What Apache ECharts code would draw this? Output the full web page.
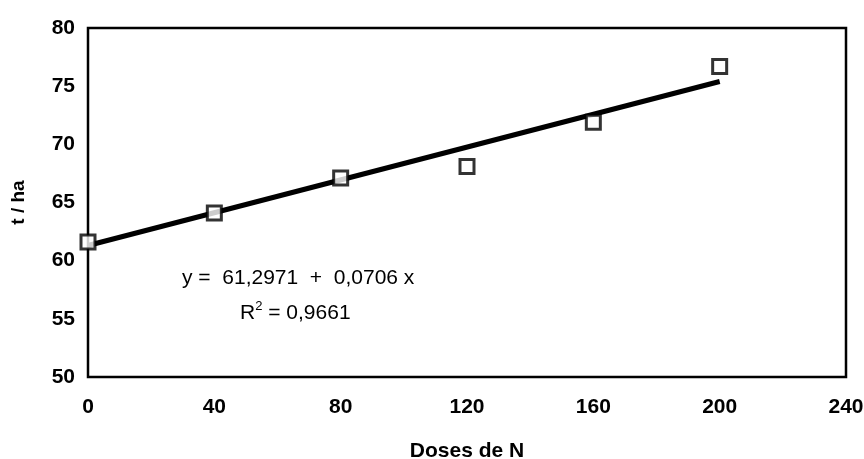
<!DOCTYPE html>
<html>
<head>
	<meta charset="utf-8">
	<title>Doses de N</title>
	<style>
		html, body { margin: 0; padding: 0; background: #fff; }
		#chart { width: 864px; height: 459px; }
	</style>
</head>
<body>
	<div id="chart"></div>
<script type="text/javascript" src="https://cdn.jsdelivr.net/npm/echarts@6/dist/echarts.min.js"></script>
<script type="text/javascript">
	// observed points
	var doses = [0, 40, 80, 120, 160, 200];
	var yields = [61.6, 64.1, 67.1, 68.1, 71.9, 76.7];
	// fitted line ends
	var trendX = [0, 200];
	var trendY = [61.3, 75.4];
	var xTicks = [0, 40, 80, 120, 160, 200, 240];
	var yTicks = [50, 55, 60, 65, 70, 75, 80];
	var equation = 'y =  61,2971  +  0,0706 x';
	var rSquared = ['R', '2', ' = 0,9661'];

	function pairs(xs, ys) {
		var out = [];
		for (var i = 0; i < xs.length; i++) out.push([xs[i], ys[i]]);
		return out;
	}

	var myChart = echarts.init(document.getElementById('chart'));
	var font = 'Liberation Sans, Arial, sans-serif';

	var option = {
		backgroundColor: '#fff',
		animation: false,
		grid: {
			left: 88,
			right: 18,
			top: 28,
			bottom: 82,
			outerBoundsMode: 'none',
			show: true,
			borderColor: '#000',
			borderWidth: 2.5
		},
		xAxis: {
			type: 'value',
			min: xTicks[0],
			max: xTicks[xTicks.length - 1],
			interval: 40,
			name: 'Doses de N',
			nameLocation: 'middle',
			nameGap: 64,
			nameTextStyle: { color: '#000', fontFamily: font, fontWeight: 'bold', fontSize: 21 },
			axisLine: { show: false },
			axisTick: { show: false },
			splitLine: { show: false },
			axisLabel: { color: '#000', fontFamily: font, fontWeight: 'bold', fontSize: 21, margin: 20 }
		},
		yAxis: {
			type: 'value',
			min: yTicks[0],
			max: yTicks[yTicks.length - 1],
			interval: 5,
			name: 't / ha',
			nameLocation: 'middle',
			nameGap: 60,
			nameRotate: 90,
			nameTextStyle: { color: '#000', fontFamily: font, fontWeight: 'bold', fontSize: 19 },
			axisLine: { show: false },
			axisTick: { show: false },
			splitLine: { show: false },
			axisLabel: { color: '#000', fontFamily: font, fontWeight: 'bold', fontSize: 21, margin: 13 }
		},
		graphic: [
			{
				type: 'text',
				left: 182,
				top: 268,
				style: { text: equation, fill: '#000', font: '21px ' + font }
			},
			{
				type: 'text',
				left: 240,
				top: 300,
				style: {
					text: '{a|' + rSquared[0] + '}{s|' + rSquared[1] + '}{a|' + rSquared[2] + '}',
					rich: {
						a: { fill: '#000', fontFamily: font, fontSize: 21, verticalAlign: 'bottom', lineHeight: 24 },
						s: { fill: '#000', fontFamily: font, fontSize: 13, verticalAlign: 'top', lineHeight: 24 }
					}
				}
			}
		],
		series: [
			{
				name: 'ajuste',
				type: 'line',
				data: pairs(trendX, trendY),
				showSymbol: false,
				lineStyle: { color: '#000', width: 5 },
				z: 2
			},
			{
				name: 't/ha',
				type: 'scatter',
				data: pairs(doses, yields),
				symbol: 'rect',
				symbolSize: 14,
				itemStyle: { color: '#fff', borderColor: '#000', borderWidth: 3 },
				z: 3
			}
		]
	};

	myChart.setOption(option);
</script>
</body>
</html>
